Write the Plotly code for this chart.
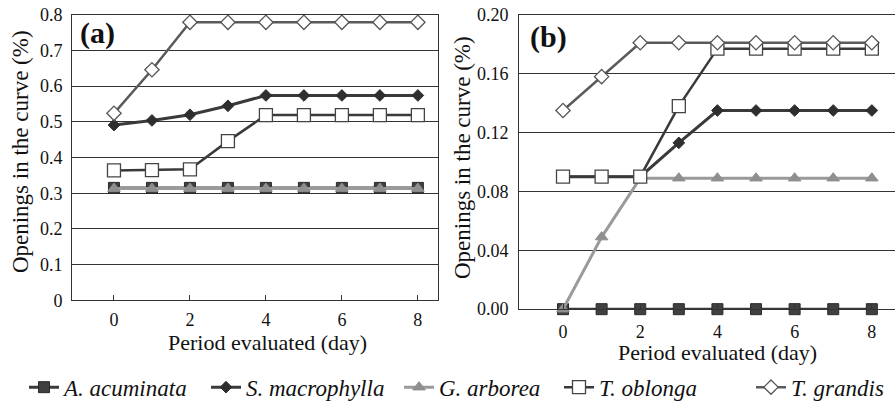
import plotly.graph_objects as go

days = [0, 1, 2, 3, 4, 5, 6, 7, 8]
species = ["A. acuminata", "S. macrophylla", "G. arborea", "T. oblonga", "T. grandis"]

# Panel (a)
a_acuminata_a = [0.315, 0.315, 0.315, 0.315, 0.315, 0.315, 0.315, 0.315, 0.315]
s_macrophylla_a = [0.491, 0.504, 0.520, 0.545, 0.574, 0.574, 0.574, 0.574, 0.574]
g_arborea_a = [0.313, 0.313, 0.313, 0.313, 0.313, 0.313, 0.313, 0.313, 0.313]
t_oblonga_a = [0.364, 0.365, 0.367, 0.446, 0.519, 0.519, 0.519, 0.519, 0.519]
t_grandis_a = [0.524, 0.646, 0.779, 0.779, 0.779, 0.779, 0.779, 0.779, 0.779]

# Panel (b)
a_acuminata_b = [0.0, 0.0, 0.0, 0.0, 0.0, 0.0, 0.0, 0.0, 0.0]
s_macrophylla_b = [0.090, 0.090, 0.090, 0.113, 0.135, 0.135, 0.135, 0.135, 0.135]
g_arborea_b = [0.0, 0.049, 0.089, 0.089, 0.089, 0.089, 0.089, 0.089, 0.089]
t_oblonga_b = [0.090, 0.090, 0.090, 0.138, 0.177, 0.177, 0.177, 0.177, 0.177]
t_grandis_b = [0.135, 0.158, 0.181, 0.181, 0.181, 0.181, 0.181, 0.181, 0.181]

yticks_a = [0, 0.1, 0.2, 0.3, 0.4, 0.5, 0.6, 0.7, 0.8]
yticklabels_a = ["0", "0.1", "0.2", "0.3", "0.4", "0.5", "0.6", "0.7", "0.8"]
yticks_b = [0.0, 0.04, 0.08, 0.12, 0.16, 0.20]
yticklabels_b = ["0.00", "0.04", "0.08", "0.12", "0.16", "0.20"]
xticks = [0, 2, 4, 6, 8]

styles = [
    dict(line=dict(color="#3a3a3a", width=3),
         marker=dict(symbol="square", size=11, color="#404040", line=dict(color="#2a2a2a", width=1))),
    dict(line=dict(color="#3a3a3a", width=3),
         marker=dict(symbol="diamond", size=9, color="#2e2e2e", line=dict(color="#2e2e2e", width=1))),
    dict(line=dict(color="#9a9a9a", width=3),
         marker=dict(symbol="triangle-up", size=11, color="#8f8f8f", line=dict(color="#8f8f8f", width=1))),
    dict(line=dict(color="#3a3a3a", width=2.5),
         marker=dict(symbol="square", size=13, color="white", line=dict(color="#444444", width=1.3))),
    dict(line=dict(color="#5a5a5a", width=2.5),
         marker=dict(symbol="diamond", size=11, color="white", line=dict(color="#555555", width=1.3))),
]

series_a = [a_acuminata_a, s_macrophylla_a, g_arborea_a, t_oblonga_a, t_grandis_a]
series_b = [a_acuminata_b, s_macrophylla_b, g_arborea_b, t_oblonga_b, t_grandis_b]

W, H = 895, 409
FONT = "Liberation Serif, Times New Roman, Times, serif"

def px_x(p):
    return p / W

def px_y(p):
    return 1 - p / H

legend_names = ["legend", "legend2", "legend3", "legend4", "legend5"]
legend_x = [24, 206, 399, 559, 751]

fig = go.Figure()
for name, vals, st, lg in zip(species, series_a, styles, legend_names):
    fig.add_trace(go.Scatter(x=days, y=vals, mode="lines+markers", name=name, cliponaxis=False,
                             xaxis="x", yaxis="y", showlegend=True, legend=lg, **st))
for name, vals, st in zip(species, series_b, styles):
    fig.add_trace(go.Scatter(x=days, y=vals, mode="lines+markers", name=name, cliponaxis=False,
                             xaxis="x2", yaxis="y2", showlegend=False, **st))

axis_common = dict(showline=True, linecolor="#333333", linewidth=1, automargin=False,
                   tickfont=dict(family=FONT, size=18, color="#111111"))

def ann(text, x, y, size, angle=0):
    return dict(text=text, x=px_x(x), y=px_y(y), xref="paper", yref="paper",
                xanchor="center", yanchor="middle", textangle=angle, showarrow=False,
                font=dict(family=FONT, size=size, color="#111111"))

legends = {}
for lg, lx in zip(legend_names, legend_x):
    legends[lg] = dict(orientation="h", x=px_x(lx), xanchor="left", y=px_y(392), yanchor="middle",
                       font=dict(family=FONT, size=23, color="#111111", style="italic"),
                       itemwidth=30, bgcolor="rgba(0,0,0,0)")

fig.update_layout(
    width=W, height=H,
    margin=dict(l=0, r=0, t=0, b=0),
    paper_bgcolor="white", plot_bgcolor="white",
    font=dict(family=FONT, color="#111111"),
    xaxis=dict(domain=[px_x(72), px_x(438)], range=[-1.105, 8.53], anchor="y", mirror=True,
               tickvals=xticks, ticktext=[str(t) for t in xticks], ticks="inside",
               ticklen=5, tickcolor="#333333", showgrid=False, zeroline=False,
               ticklabelstandoff=3, **axis_common),
    yaxis=dict(domain=[px_y(304), px_y(15)], range=[0, 0.8], anchor="x", mirror=True,
               tickvals=yticks_a, ticktext=yticklabels_a, showgrid=True,
               gridcolor="#333333", gridwidth=1, zeroline=False, ticks="",
               ticklabelstandoff=5, **axis_common),
    xaxis2=dict(domain=[px_x(519), 1.0], range=[-1.14, 8.6], anchor="y2", mirror=True,
                tickvals=xticks, ticktext=[str(t) for t in xticks], ticks="inside",
                ticklen=5, tickcolor="#333333", showgrid=False, zeroline=False,
                ticklabelstandoff=6, **axis_common),
    yaxis2=dict(domain=[px_y(313), px_y(15)], range=[0, 0.20], anchor="x2", mirror=False,
                tickvals=yticks_b, ticktext=yticklabels_b, showgrid=True,
                gridcolor="#333333", gridwidth=1, zeroline=False, ticks="",
                ticklabelstandoff=6, **axis_common),
    annotations=[
        ann("Openings in the curve (%)", 20, 154, 23, -90),
        ann("Openings in the curve (%)", 462, 160, 23, -90),
        ann("Period evaluated (day)", 267, 347, 22),
        ann("Period evaluated (day)", 717, 357, 22),
        ann("<b>(a)</b>", 97, 33, 30),
        ann("<b>(b)</b>", 548, 37, 30),
    ],
    **legends,
)

fig.write_html("out.html", config={"displayModeBar": False},
               post_script="document.body.style.margin='0';")
